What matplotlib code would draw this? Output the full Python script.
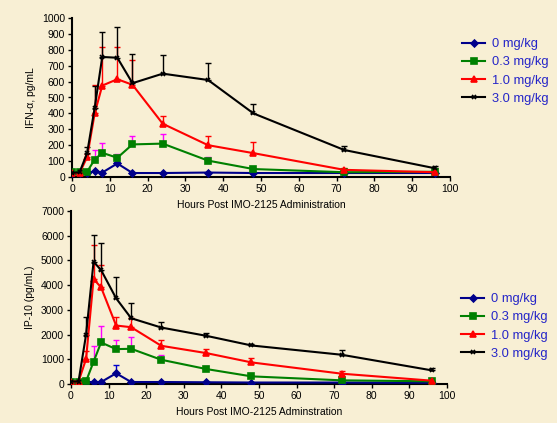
import numpy as np
import matplotlib
matplotlib.use("Agg")
import matplotlib.pyplot as plt

plt.rcParams['font.family'] = ['Liberation Sans', 'DejaVu Sans']

# Sampling times (hours)
hours = [0, 2, 4, 6, 8, 12, 16, 24, 36, 48, 72, 96]
doses = ["0 mg/kg", "0.3 mg/kg", "1.0 mg/kg", "3.0 mg/kg"]

# IFN-alpha (pg/mL), mean and upper error
ifn_0 = [25, 25, 25, 35, 28, 85, 25, 25, 28, 25, 25, 25]
ifn_0_err = [0, 0, 0, 5, 5, 10, 0, 0, 0, 0, 0, 0]
ifn_03 = [33, 30, 33, 110, 152, 121, 205, 210, 103, 50, 30, 33]
ifn_03_err = [0, 0, 0, 60, 60, 25, 50, 60, 25, 5, 3, 5]
ifn_10 = [25, 25, 125, 400, 575, 615, 580, 335, 200, 150, 45, 30]
ifn_10_err = [0, 0, 20, 180, 240, 200, 155, 50, 60, 70, 10, 5]
ifn_30 = [25, 30, 150, 435, 755, 750, 590, 650, 610, 400, 170, 55]
ifn_30_err = [0, 0, 40, 140, 155, 195, 185, 120, 110, 60, 25, 15]

# IP-10 (pg/mL), mean and upper error
ip_0 = [80, 80, 80, 80, 80, 433, 80, 80, 70, 60, 60, 50]
ip_0_err = [0, 0, 0, 0, 0, 337, 0, 0, 0, 0, 0, 0]
ip_03 = [94, 94, 108, 900, 1680, 1411, 1425, 981, 605, 309, 148, 108]
ip_03_err = [0, 0, 0, 646, 672, 350, 457, 202, 107, 0, 0, 0]
ip_10 = [100, 100, 1008, 4247, 3911, 2366, 2298, 1546, 1250, 874, 417, 134]
ip_10_err = [0, 0, 309, 1371, 901, 362, 363, 242, 161, 174, 94, 0]
ip_30 = [100, 100, 1990, 4946, 4610, 3468, 2661, 2285, 1949, 1559, 1183, 551]
ip_30_err = [0, 0, 710, 1100, 1075, 873, 605, 242, 134, 67, 174, 94]

bg = "#F8EFD4"
line_colors = ["#00008B", "#008000", "#FF0000", "#000000"]
err_colors = ["#0000CC", "#FF00FF", "#FF0000", "#000000"]
markers = ["D", "s", "^", "x"]
msizes = [3.5, 4.5, 4.5, 3.5]

fig = plt.figure(figsize=(5.57, 4.23), dpi=100, facecolor=bg)


def draw_panel(ax, means, errs, ymax, ystep, ylabel, xlabel, legend_xy):
    ax.set_facecolor(bg)
    x = np.array(hours)
    for i in range(4):
        m = np.array(means[i])
        e = np.array(errs[i])
        # upper error bars only
        ax.errorbar(x, m, yerr=[np.zeros_like(e), e], fmt="none",
                    ecolor=err_colors[i], elinewidth=1.0, capsize=2.5, capthick=1.0, zorder=2)
        ax.plot(x, m, color=line_colors[i], lw=1.5, marker=markers[i],
                ms=msizes[i], mew=1.2, label=doses[i], zorder=3)
    ax.set_xlim(0, 100)
    ax.set_ylim(0, ymax)
    ax.set_xticks(range(0, 101, 10))
    ax.set_yticks(np.arange(0, ymax + 1, ystep))
    for s in ["top", "right"]:
        ax.spines[s].set_visible(False)
    ax.spines["left"].set_linewidth(1.5)
    ax.spines["bottom"].set_linewidth(1.5)
    ax.tick_params(labelsize=7.5, length=3, width=1, pad=2)
    ax.set_ylabel(ylabel, fontsize=7.5)
    ax.set_xlabel(xlabel, fontsize=7.5, labelpad=4)
    leg = fig.legend(*ax.get_legend_handles_labels(), loc="upper left",
                     bbox_to_anchor=legend_xy, frameon=False, borderpad=0, borderaxespad=0,
                     fontsize=9.3, handlelength=1.8, labelspacing=0.48, handletextpad=0.5)
    for t in leg.get_texts():
        t.set_color("#2525C8")


ax1 = fig.add_axes([72 / 557, 1 - 177 / 423, 378 / 557, 159 / 423])
draw_panel(ax1, [ifn_0, ifn_03, ifn_10, ifn_30], [ifn_0_err, ifn_03_err, ifn_10_err, ifn_30_err],
           1000, 100, "IFN-\u03b1, pg/mL", "Hours Post IMO-2125 Administration",
           (462 / 557, 1 - 38 / 423))

ax2 = fig.add_axes([71 / 557, 1 - 384 / 423, 376 / 557, 173 / 423])
draw_panel(ax2, [ip_0, ip_03, ip_10, ip_30], [ip_0_err, ip_03_err, ip_10_err, ip_30_err],
           7000, 1000, "IP-10 (pg/mL)", "Hours Post IMO-2125 Adminstration",
           (461 / 557, 1 - 293 / 423))

fig.savefig("out.png", dpi=100, facecolor=bg)
